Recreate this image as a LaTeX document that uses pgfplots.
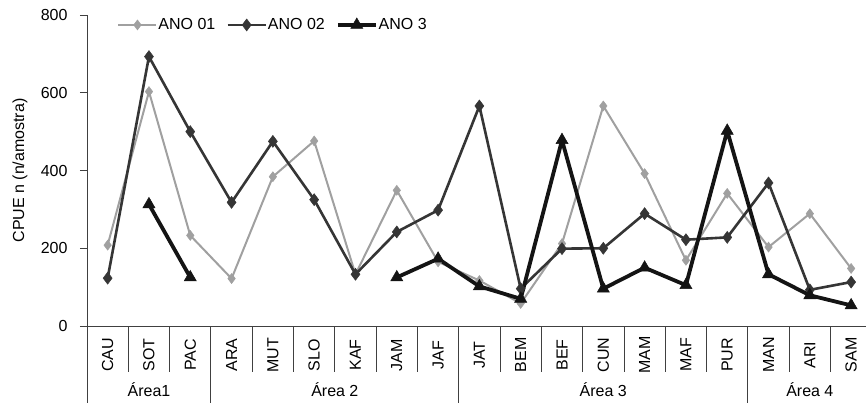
\documentclass[border=0pt]{standalone}
\usepackage{fontspec}
\setmainfont{Liberation Sans}
\usepackage{pgfplots}
\pgfplotsset{compat=1.18}
\definecolor{cA}{HTML}{A0A0A0}
\definecolor{cB}{HTML}{353535}
\definecolor{cC}{HTML}{141414}
\begin{document}
\begin{tikzpicture}[x=1pt,y=1pt]
\path[use as bounding box] (0,0) rectangle (866,402);
\begin{axis}[
  at={(87pt,76pt)}, anchor=south west,
  scale only axis, width=779pt, height=311pt,
  xmin=-0.5, xmax=18.36, ymin=0, ymax=800,
  clip=false,
  axis lines*=left,
  axis line style={-, black!75, line width=0.9pt},
  font=\fontsize{16}{18}\selectfont,
  /pgf/number format/assume math mode=true,
  ytick={0,200,400,600,800},
  tick align=outside,
  major tick length=7pt,
  ytick style={black!75, line width=0.9pt},
  yticklabel style={xshift=-9pt},
  xtick={0,...,18},
  xticklabels={CAU,SOT,PAC,ARA,MUT,SLO,KAF,JAM,JAF,JAT,BEM,BEF,CUN,MAM,MAF,PUR,MAN,ARI,SAM},
  xtick style={draw=none},
  xticklabel style={rotate=90, anchor=center},
  xticklabel shift=22pt,
  ylabel={CPUE n (n/amostra)},
  every axis y label/.style={at={(axis description cs:-0.086,0.5)}, rotate=90, anchor=center},
  legend style={draw=none, fill=none, at={(0.035,0.968)}, anchor=west,
    legend columns=3, font=\fontsize{16}{18}\selectfont,
    /tikz/every even column/.append style={column sep=10pt},
    nodes={inner sep=1pt}},
  legend image code/.code={\draw[mark repeat=2,mark phase=2,#1] plot coordinates {(0pt,0pt) (19pt,0pt) (38pt,0pt)};},
]
\addplot[cA, line width=2pt, mark=diamond*, mark size=5pt, mark options={fill=cA, draw=cA, line width=0.5pt}]
coordinates {(0,208) (1,603) (2,233) (3,122) (4,384) (5,476) (6,133) (7,349) (8,165) (9,117) (10,58) (11,212) (12,566) (13,392) (14,169) (15,341) (16,203) (17,289) (18,148)};
\addlegendentry{ANO 01}
\addplot[cB, line width=2.6pt, mark=diamond*, mark size=6pt, mark options={fill=cB, draw=cB, line width=0.5pt}]
coordinates {(0,123) (1,693) (2,500) (3,318) (4,475) (5,325) (6,133) (7,242) (8,298) (9,566) (10,96) (11,199) (12,200) (13,289) (14,222) (15,228) (16,368) (17,93) (18,113)};
\addlegendentry{ANO 02}
\addplot[cC, line width=3.8pt, mark=triangle*, mark size=7pt, mark options={fill=cC, draw=cC, line width=0.5pt}, unbounded coords=jump]
coordinates {(0,nan) (1,313) (2,125) (3,nan) (4,nan) (5,nan) (6,nan) (7,125) (8,173) (9,102) (10,70) (11,478) (12,96) (13,150) (14,105) (15,502) (16,133) (17,79) (18,53)};
\addlegendentry{ANO 3}
\pgfplotsinvokeforeach{0.5,1.5,3.5,4.5,5.5,6.5,7.5,9.5,10.5,11.5,12.5,13.5,14.5,16.5,17.5}{
  \draw[black!75, line width=0.9pt] (axis cs:#1,0) -- ([yshift=-46pt]axis cs:#1,0);
}
\pgfplotsinvokeforeach{-0.5,2.5,8.5,15.5}{
  \draw[black!75, line width=0.9pt] (axis cs:#1,0) -- ([yshift=-80pt]axis cs:#1,0);
}
\node at ([yshift=-64pt]axis cs:1,0) {Área1};
\node at ([yshift=-64pt]axis cs:5.5,0) {Área 2};
\node at ([yshift=-64pt]axis cs:12,0) {Área 3};
\node at ([yshift=-64pt]axis cs:17,0) {Área 4};
\end{axis}
\end{tikzpicture}
\end{document}
